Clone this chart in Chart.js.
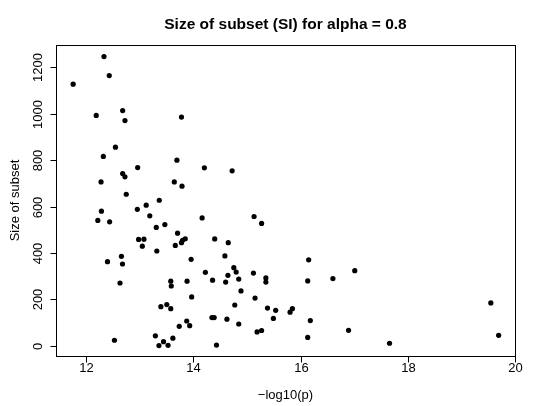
<!DOCTYPE html>
<html>
<head>
<meta charset="utf-8">
<script src="https://cdn.jsdelivr.net/npm/chart.js@4/dist/chart.umd.min.js"></script>
<style>
  html, body { margin: 0; padding: 0; background: #fff; }
  #wrap { width: 534px; height: 406px; position: relative; }
</style>
</head>
<body>
<div id="wrap"><canvas id="c" width="534" height="406"></canvas></div>
<script>
const chartTitle = "Size of subset (SI) for alpha = 0.8";
const xTitle = "\u2212log10(p)";
const yTitle = "Size of subset";
const xTicks = [12, 14, 16, 18, 20];
const yTicks = [0, 200, 400, 600, 800, 1000, 1200];

const negLogP = [
  11.76, 12.335, 12.433, 12.19, 12.683, 12.726, 13.78, 12.549, 12.323, 13.695,
  12.963, 14.207, 12.683, 12.726, 12.28, 13.646, 13.79, 12.75, 13.366, 13.122,
  12.957, 12.287, 13.189, 14.165, 12.22, 12.44, 13.47, 13.31, 13.707, 12.98,
  13.08, 13.85, 13.80, 13.78, 13.05, 13.665, 13.32, 12.66, 13.96, 12.40,
  12.68, 14.226, 12.634, 13.58, 13.884, 13.59, 13.97, 13.506, 13.396, 13.58,
  13.878, 13.738, 13.933, 13.293, 12.53, 13.62, 13.445, 13.36, 13.53, 14.725,
  15.134, 15.274, 14.40, 14.652, 14.59, 16.152, 14.756, 14.80, 14.646, 15.122,
  15.354, 15.354, 14.36, 14.604, 14.848, 16.134, 16.604, 14.89, 15.152, 14.774,
  15.384, 15.537, 15.848, 15.805, 14.348, 14.39, 14.628, 15.494, 14.848, 16.183,
  15.19, 15.274, 16.896, 16.134, 14.433, 17.012, 17.66, 19.549, 19.695
];
const subsetSize = [
  1128, 1247, 1165, 993, 1014, 971, 986, 856, 816, 800,
  768, 767, 742, 728, 706, 706, 688, 653, 627, 606,
  588, 580, 560, 551, 540, 534, 522, 510, 485, 458,
  459, 461, 454, 444, 429, 432, 408, 385, 372, 362,
  352, 316, 270, 278, 278, 257, 210, 177, 168, 159,
  106, 83, 86, 42, 23, 32, 17, 0, 1, 754,
  557, 527, 460, 444, 387, 370, 336, 317, 303, 313,
  292, 274, 282, 274, 287, 279, 289, 236, 205, 175,
  162, 152, 159, 144, 121, 121, 114, 117, 93, 108,
  59, 65, 66, 35, 2, 323, 10, 184, 44
];

const points = negLogP.map((x, i) => ({ x: x, y: subsetSize[i] }));

const FONT = "'Liberation Sans', Arial, Helvetica, sans-serif";

const rAxesPlugin = {
  id: 'rAxes',
  afterDraw(chart) {
    const ctx = chart.ctx;
    const a = chart.chartArea;
    const xs = chart.scales.x, ys = chart.scales.y;
    ctx.save();
    ctx.strokeStyle = '#000';
    ctx.fillStyle = '#000';
    ctx.lineWidth = 1;
    // box
    ctx.strokeRect(Math.round(a.left) + 0.5, Math.round(a.top) + 0.5,
                   Math.round(a.right - a.left), Math.round(a.bottom - a.top));
    // x axis ticks & labels
    ctx.font = '13px ' + FONT;
    ctx.textAlign = 'center';
    ctx.textBaseline = 'alphabetic';
    const yb = Math.round(a.bottom) + 0.5;
    xTicks.forEach(t => {
      const px = Math.round(xs.getPixelForValue(t)) + 0.5;
      ctx.beginPath();
      ctx.moveTo(px, yb);
      ctx.lineTo(px, yb + 6);
      ctx.stroke();
      ctx.fillText(String(t), px, yb + 15.5);
    });
    // y axis ticks & rotated labels
    const xl = Math.round(a.left) + 0.5;
    yTicks.forEach(t => {
      const py = Math.round(ys.getPixelForValue(t)) + 0.5;
      ctx.beginPath();
      ctx.moveTo(xl, py);
      ctx.lineTo(xl - 6, py);
      ctx.stroke();
      ctx.save();
      ctx.translate(xl - 14.5, py);
      ctx.rotate(-Math.PI / 2);
      ctx.fillText(String(t), 0, 0);
      ctx.restore();
    });
    // axis titles
    ctx.fillText(xTitle, (a.left + a.right) / 2, 399);
    ctx.save();
    ctx.translate(19, (a.top + a.bottom) / 2);
    ctx.rotate(-Math.PI / 2);
    ctx.fillText(yTitle, 0, 0);
    ctx.restore();
    // main title
    ctx.font = 'bold 15.5px ' + FONT;
    ctx.fillText(chartTitle, (a.left + a.right) / 2, 29);
    ctx.restore();
  }
};

new Chart(document.getElementById('c'), {
  type: 'scatter',
  data: {
    datasets: [{
      data: points,
      pointRadius: 2.6,
      pointHoverRadius: 2.6,
      pointBackgroundColor: '#000',
      pointBorderColor: '#000',
      pointBorderWidth: 0,
      showLine: false
    }]
  },
  options: {
    responsive: false,
    animation: false,
    devicePixelRatio: 1,
    layout: { padding: { left: 56, right: 19, top: 45, bottom: 50 } },
    plugins: {
      legend: { display: false },
      tooltip: { enabled: false },
      title: { display: false }
    },
    scales: {
      x: { type: 'linear', min: 11.44, max: 20.0, display: false },
      y: { type: 'linear', min: -45, max: 1297, display: false }
    }
  },
  plugins: [rAxesPlugin]
});
</script>
</body>
</html>
